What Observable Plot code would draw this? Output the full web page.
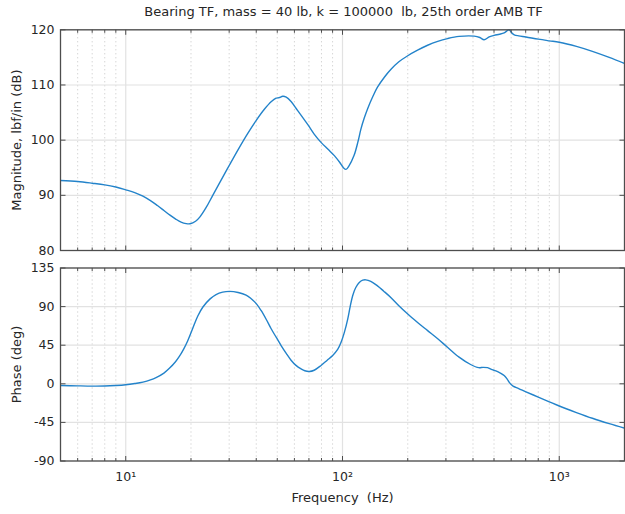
<!DOCTYPE html>
<html>
<head>
<meta charset="utf-8">
<script src="https://cdn.jsdelivr.net/npm/d3@7"></script>
<script src="https://cdn.jsdelivr.net/npm/@observablehq/plot@0.6"></script>
<style>
  html, body { margin: 0; padding: 0; background: #fff; }
  body { width: 625px; height: 514px; overflow: hidden; font-family: "DejaVu Sans", "Liberation Sans", sans-serif; }
  #title { height: 20px; line-height: 23px; padding-left: 62px; text-align: center; font-size: 13px; color: #262626; white-space: pre; }
  svg { display: block; }
</style>
</head>
<body>
<div id="title"></div>
<div id="chart"></div>
<script>
// ---- data ----
const titleText = "Bearing TF, mass = 40 lb, k = 100000  lb, 25th order AMB TF";
const magLabel = "Magnitude, lbf/in (dB)";
const phaseLabel = "Phase (deg)";
const xLabel = "Frequency\u00a0 (Hz)";

const xDomain = [5, 2000];
const majorX = [10, 100, 1000];
const majorXLabels = ["10\u00b9", "10\u00b2", "10\u00b3"];
const minorX = [6, 7, 8, 9, 20, 30, 40, 50, 60, 70, 80, 90, 200, 300, 400, 500, 600, 700, 800, 900];

const magDomain = [80, 120];
const magTicks = [80, 90, 100, 110, 120];
const phaseDomain = [-90, 135];
const phaseTicks = [-90, -45, 0, 45, 90, 135];

const magFreq = [5, 6, 7, 8, 9, 10, 11, 12, 13, 14, 15, 16, 17, 18, 19, 19.8, 21, 22, 23.5, 25.2,
  27.5, 30.1, 33, 36.5, 40, 43.6, 47, 49.4, 51, 53, 55, 57.9, 62, 69.2, 74, 79.6, 86, 91.7, 97, 101,
  103.8, 107, 113, 118, 121.6, 126, 130.6, 138, 145, 156, 167, 182, 200, 222, 247, 275, 305, 345, 405, 430,
  450, 475, 501, 530, 557, 587, 605, 620, 650, 702, 800, 900, 1000, 1200, 1422, 1700, 2000];
const magDb = [92.7, 92.5, 92.2, 91.9, 91.5, 91.0, 90.5, 89.85, 89.05, 88.15, 87.25, 86.4, 85.7, 85.15, 84.88, 84.85, 85.3, 86.1, 87.8, 90.0,
  92.7, 95.5, 98.3, 101.2, 103.6, 105.6, 107.0, 107.6, 107.7, 107.95, 107.8, 107.0, 105.4, 102.8, 101.1, 99.6, 98.3, 97.2, 96.0, 95.0,
  94.7, 95.3, 97.2, 99.8, 102.0, 104.0, 105.7, 107.9, 109.6, 111.4, 112.8, 114.2, 115.3, 116.3, 117.2, 117.9, 118.4, 118.8, 118.85, 118.6,
  118.2, 118.7, 119.0, 119.2, 119.45, 120.0, 119.4, 119.1, 118.9, 118.7, 118.3, 118.0, 117.75, 117.0, 116.1, 115.0, 113.9];

const phaseFreq = [5, 6, 7, 8, 9, 10, 11, 12, 13, 13.8, 15, 15.9, 17, 17.7, 18.5, 19.3, 20.4, 21.5, 22.7, 24.5,
  26.1, 28, 30.1, 33, 35.9, 37.8, 40, 42.1, 44.5, 46.8, 49.5, 52.1, 55, 57.9, 61, 64.4, 67, 70.3, 74, 79.6,
  85, 90.1, 95, 98.5, 102, 105.7, 108.5, 111.4, 115, 119.5, 124, 128, 135, 145, 155, 167, 182, 200, 222, 247,
  275, 305, 345, 390, 425, 445, 467, 490, 510, 535, 557, 575, 587, 600, 612, 650, 702, 800, 900, 1000,
  1200, 1422, 1700, 2000];
const phaseDeg = [-1.9, -2.4, -2.7, -2.6, -2.0, -1.1, 0.3, 2.0, 4.5, 7.2, 12.5, 18, 26, 32.2, 40.5, 50, 65, 79, 89.5, 99,
  104, 106.8, 107.7, 106.5, 103.5, 99.5, 93.5, 85.5, 75, 64.5, 54, 44.6, 35.5, 27.5, 21.5, 17.4, 15.2, 14.4, 15.8, 21.4,
  27.5, 33, 40, 48.4, 60, 75.5, 90, 102.7, 112, 118.1, 120.8, 121.2, 119.5, 114.2, 108, 100.7, 91, 81.3, 71.5, 62,
  52.5, 42.6, 31.1, 22.5, 18.8, 19.2, 18.8, 16.5, 15, 12.5, 9.7, 5.5, 2, -0.8, -2.7, -5.5, -9.3, -15.5, -21, -25.9,
  -33.5, -40.2, -46.5, -51.8];

// ---- styles ----
const lineColor = "#2383ca";
const frameColor = "#4d4d4d";
const gridColor = "#e2e2e2";
const minorGridColor = "#b5b5b5";
const textColor = "#262626";
const font = "DejaVu Sans, Liberation Sans, sans-serif";
const fs = 12.5;

document.getElementById("title").textContent = titleText;

const tickShape = {draw(context, l) { context.moveTo(0, 0); context.lineTo(0, -l); }};

function frameTicks(yTicks) {
  const common = {shape: tickShape, anchor: "start", stroke: frameColor, fill: "none", strokeWidth: 1, strokeLinecap: "butt"};
  return [
    Plot.vector(minorX, {x: d => d, frameAnchor: "bottom", rotate: 0, length: 3, ...common}),
    Plot.vector(minorX, {x: d => d, frameAnchor: "top", rotate: 180, length: 3, ...common}),
    Plot.vector(majorX, {x: d => d, frameAnchor: "bottom", rotate: 0, length: 5, ...common}),
    Plot.vector(majorX, {x: d => d, frameAnchor: "top", rotate: 180, length: 5, ...common}),
    Plot.vector(yTicks, {y: d => d, frameAnchor: "left", rotate: 90, length: 5, ...common}),
    Plot.vector(yTicks, {y: d => d, frameAnchor: "right", rotate: 270, length: 5, ...common})
  ];
}

function grid(yTicks) {
  return [
    Plot.ruleX(minorX, {x: d => d, stroke: minorGridColor, strokeWidth: 0.8, strokeDasharray: "1,3"}),
    Plot.ruleX(majorX, {x: d => d, stroke: gridColor, strokeWidth: 1.2}),
    Plot.ruleY(yTicks, {y: d => d, stroke: gridColor, strokeWidth: 1.2})
  ];
}

const magData = magFreq.map((f, i) => ({f, v: magDb[i]}));
const phaseData = phaseFreq.map((f, i) => ({f, v: phaseDeg[i]}));

const magPlot = Plot.plot({
  width: 625, height: 236,
  marginLeft: 60, marginRight: 1, marginTop: 9.3, marginBottom: 6,
  style: {fontFamily: font, fontSize: fs + "px", color: textColor, background: "transparent"},
  x: {type: "log", domain: xDomain, axis: null},
  y: {domain: magDomain, axis: null},
  marks: [
    ...grid(magTicks),
    Plot.line(magData, {x: "f", y: "v", stroke: lineColor, strokeWidth: 1.4, curve: "catmull-rom", clip: true}),
    Plot.frame({stroke: frameColor, strokeWidth: 1.3}),
    ...frameTicks(magTicks),
    Plot.axisY(magTicks, {label: null, tickSize: 0, tickPadding: 6, tickFormat: d => d, fontSize: fs, fill: textColor}),
    Plot.text([magLabel], {text: d => d, frameAnchor: "left", textAnchor: "middle", rotate: -90, dx: -44, fontSize: 13, fill: textColor})
  ]
});

const phasePlot = Plot.plot({
  width: 625, height: 258,
  marginLeft: 60, marginRight: 1, marginTop: 11.5, marginBottom: 53.5,
  style: {fontFamily: font, fontSize: fs + "px", color: textColor, background: "transparent"},
  x: {type: "log", domain: xDomain, axis: null},
  y: {domain: phaseDomain, axis: null},
  marks: [
    ...grid(phaseTicks),
    Plot.line(phaseData, {x: "f", y: "v", stroke: lineColor, strokeWidth: 1.4, curve: "catmull-rom", clip: true}),
    Plot.frame({stroke: frameColor, strokeWidth: 1.3}),
    ...frameTicks(phaseTicks),
    Plot.axisY(phaseTicks, {label: null, tickSize: 0, tickPadding: 6, tickFormat: d => d, fontSize: fs, fill: textColor}),
    Plot.text(majorX, {x: d => d, frameAnchor: "bottom", dy: 20, text: (d, i) => majorXLabels[i], fontSize: fs, fill: textColor}),
    Plot.text([xLabel], {text: d => d, frameAnchor: "bottom", dy: 41, fontSize: 13, fill: textColor}),
    Plot.text([phaseLabel], {text: d => d, frameAnchor: "left", textAnchor: "middle", rotate: -90, dx: -44, fontSize: 13, fill: textColor})
  ]
});

const chart = document.getElementById("chart");
chart.appendChild(magPlot);
chart.appendChild(phasePlot);
</script>
</body>
</html>
